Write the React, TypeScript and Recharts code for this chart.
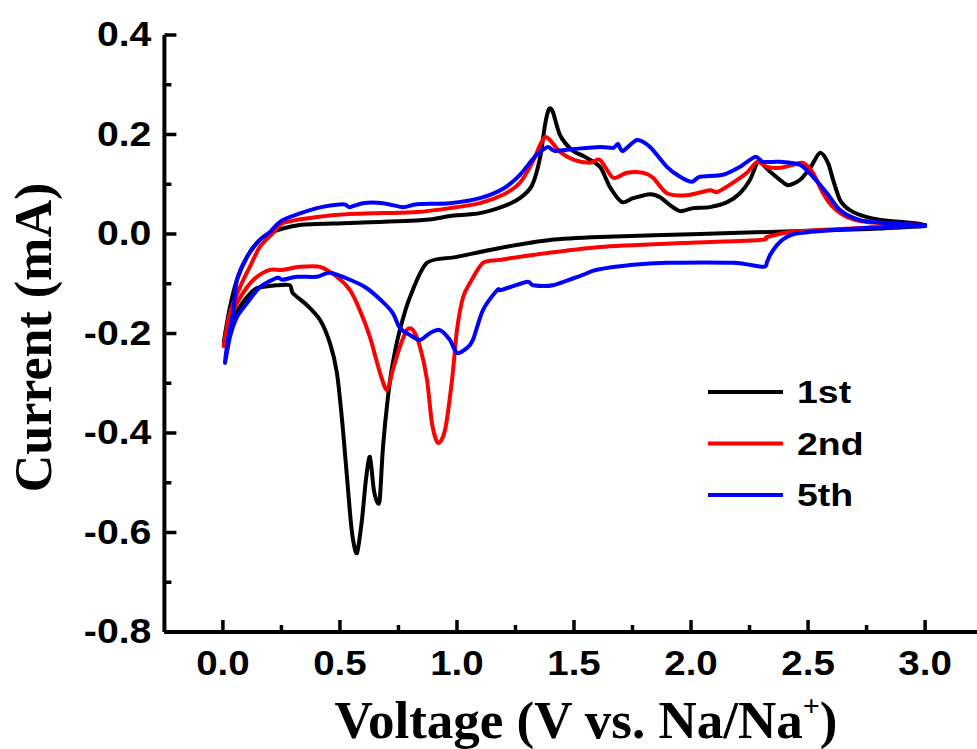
import React from 'react';
import { LineChart, Line, XAxis, YAxis, Legend } from 'recharts';

type Pt = [number, number];

// [voltage (V), current (mA)] — cathodic scan 3.0 -> 0.0 V, then anodic scan 0.0 -> 3.0 V
const cycle1Cathodic: Pt[] = [
  [3.0, 0.016], [2.765, 0.01], [2.466, 0.006], [2.038, 0.0], [1.611, -0.006], [1.397, -0.012],
  [1.184, -0.028], [1.0, -0.046], [0.872, -0.058], [0.799, -0.127], [0.756, -0.193], [0.726, -0.259],
  [0.705, -0.328], [0.684, -0.428], [0.671, -0.529], [0.662, -0.541], [0.645, -0.515], [0.628, -0.448],
  [0.611, -0.494], [0.594, -0.575], [0.573, -0.641], [0.556, -0.615], [0.543, -0.561], [0.513, -0.394],
  [0.487, -0.279], [0.457, -0.219], [0.415, -0.173], [0.359, -0.143], [0.299, -0.119], [0.286, -0.103],
  [0.231, -0.103], [0.145, -0.109], [0.103, -0.127], [0.064, -0.153], [0.03, -0.187], [0.004, -0.219],
];
const cycle1Anodic: Pt[] = [
  [0.004, -0.219], [0.03, -0.147], [0.06, -0.092], [0.103, -0.046], [0.145, -0.018], [0.201, 0.002],
  [0.329, 0.018], [0.543, 0.022], [0.855, 0.028], [0.97, 0.036], [1.098, 0.042], [1.201, 0.056],
  [1.269, 0.072], [1.321, 0.098], [1.355, 0.153], [1.376, 0.219], [1.393, 0.251], [1.41, 0.245],
  [1.44, 0.199], [1.491, 0.169], [1.547, 0.155], [1.611, 0.135], [1.654, 0.094], [1.705, 0.064],
  [1.752, 0.072], [1.825, 0.08], [1.868, 0.074], [1.91, 0.058], [1.953, 0.046], [2.009, 0.052],
  [2.081, 0.054], [2.154, 0.064], [2.209, 0.082], [2.252, 0.109], [2.282, 0.143], [2.295, 0.145],
  [2.338, 0.125], [2.38, 0.109], [2.415, 0.098], [2.466, 0.109], [2.509, 0.133], [2.551, 0.163],
  [2.585, 0.143], [2.607, 0.109], [2.637, 0.068], [2.679, 0.048], [2.752, 0.034], [2.85, 0.026],
  [2.949, 0.022], [3.0, 0.018],
];

const cycle2Cathodic: Pt[] = [
  [3.0, 0.018], [2.808, 0.014], [2.551, 0.008], [2.423, 0.004], [2.325, -0.006], [2.295, -0.012],
  [1.966, -0.018], [1.611, -0.026], [1.325, -0.042], [1.184, -0.052], [1.111, -0.058], [1.056, -0.098],
  [1.026, -0.127], [1.0, -0.193], [0.979, -0.293], [0.949, -0.394], [0.919, -0.42], [0.893, -0.38],
  [0.872, -0.293], [0.842, -0.227], [0.812, -0.193], [0.786, -0.193], [0.756, -0.227], [0.726, -0.273],
  [0.701, -0.314], [0.671, -0.279], [0.628, -0.207], [0.585, -0.153], [0.543, -0.113], [0.487, -0.086],
  [0.415, -0.066], [0.329, -0.066], [0.256, -0.072], [0.201, -0.072], [0.145, -0.086], [0.103, -0.107],
  [0.06, -0.139], [0.03, -0.173], [0.009, -0.213], [0.004, -0.223],
];
const cycle2Anodic: Pt[] = [
  [0.004, -0.223], [0.03, -0.159], [0.073, -0.107], [0.115, -0.066], [0.158, -0.026], [0.214, 0.002],
  [0.256, 0.022], [0.402, 0.034], [0.543, 0.04], [0.684, 0.042], [0.829, 0.044], [0.97, 0.052],
  [1.098, 0.062], [1.201, 0.08], [1.269, 0.103], [1.321, 0.143], [1.355, 0.179], [1.376, 0.195],
  [1.397, 0.189], [1.44, 0.165], [1.5, 0.149], [1.568, 0.143], [1.611, 0.149], [1.667, 0.113],
  [1.726, 0.123], [1.795, 0.123], [1.838, 0.113], [1.897, 0.082], [1.983, 0.078], [2.081, 0.088],
  [2.111, 0.084], [2.179, 0.103], [2.239, 0.123], [2.282, 0.145], [2.325, 0.135], [2.38, 0.133],
  [2.436, 0.139], [2.479, 0.143], [2.521, 0.123], [2.564, 0.082], [2.607, 0.054], [2.667, 0.034],
  [2.752, 0.024], [2.893, 0.02], [3.0, 0.018],
];

const cycle5Cathodic: Pt[] = [
  [3.0, 0.016], [2.752, 0.012], [2.466, 0.002], [2.402, -0.008], [2.368, -0.022], [2.338, -0.042],
  [2.325, -0.056], [2.308, -0.066], [2.179, -0.058], [1.897, -0.058], [1.752, -0.062], [1.598, -0.072],
  [1.538, -0.082], [1.41, -0.103], [1.325, -0.103], [1.303, -0.096], [1.226, -0.107], [1.184, -0.113],
  [1.171, -0.113], [1.111, -0.153], [1.068, -0.213], [1.043, -0.229], [1.0, -0.239], [0.97, -0.213],
  [0.927, -0.193], [0.885, -0.199], [0.842, -0.213], [0.799, -0.203], [0.756, -0.189], [0.726, -0.159],
  [0.684, -0.137], [0.615, -0.109], [0.543, -0.092], [0.457, -0.078], [0.402, -0.086], [0.316, -0.086],
  [0.256, -0.092], [0.231, -0.088], [0.158, -0.107], [0.103, -0.139], [0.06, -0.167], [0.03, -0.207],
  [0.009, -0.259],
];
const cycle5Anodic: Pt[] = [
  [0.009, -0.259], [0.021, -0.213], [0.043, -0.159], [0.06, -0.092], [0.103, -0.046], [0.158, -0.012],
  [0.201, 0.004], [0.256, 0.028], [0.402, 0.052], [0.513, 0.06], [0.543, 0.054], [0.598, 0.062],
  [0.684, 0.062], [0.769, 0.054], [0.829, 0.06], [0.97, 0.062], [1.098, 0.072], [1.201, 0.092],
  [1.269, 0.119], [1.321, 0.149], [1.355, 0.165], [1.389, 0.175], [1.419, 0.167], [1.504, 0.171],
  [1.611, 0.175], [1.667, 0.173], [1.688, 0.181], [1.709, 0.167], [1.769, 0.189], [1.825, 0.175],
  [1.897, 0.135], [1.953, 0.115], [2.004, 0.105], [2.038, 0.115], [2.137, 0.119], [2.209, 0.135],
  [2.274, 0.155], [2.308, 0.145], [2.38, 0.145], [2.466, 0.139], [2.521, 0.115], [2.581, 0.082],
  [2.637, 0.048], [2.722, 0.028], [2.838, 0.022], [3.0, 0.018],
];

const seriesNames = ['1st', '2nd', '5th'];
const seriesColors = ['#000000', '#ff0000', '#0000ff'];
const xTicks = [0, 0.25, 0.5, 0.75, 1.0, 1.25, 1.5, 1.75, 2.0, 2.25, 2.5, 2.75, 3.0];
const yTicks = [-0.8, -0.7, -0.6, -0.5, -0.4, -0.3, -0.2, -0.1, 0, 0.1, 0.2, 0.3, 0.4];
const xTitle = 'Voltage (V vs. Na/Na';
const yTitle = 'Current (mA)';

const toRows = (a: Pt[], b: Pt[]) => [...a, ...b.slice(1)].map(([v, i]) => ({ v, i }));
const seriesData = [
  toRows(cycle1Cathodic, cycle1Anodic),
  toRows(cycle2Cathodic, cycle2Anodic),
  toRows(cycle5Cathodic, cycle5Anodic),
];

// Cardinal spline curve factory (smooth curve through the points, works for non-monotone loops)
const cardinalCurve = (tension: number) => (context: any) => {
  let pts: number[][] = [];
  return {
    areaStart() {},
    areaEnd() {},
    lineStart() { pts = []; },
    point(x: number, y: number) { pts.push([+x, +y]); },
    lineEnd() {
      const n = pts.length;
      if (!n) return;
      context.moveTo(pts[0][0], pts[0][1]);
      const k = (1 - tension) / 6;
      for (let j = 0; j < n - 1; j++) {
        const p0 = pts[j - 1] || pts[j];
        const p1 = pts[j];
        const p2 = pts[j + 1];
        const p3 = pts[j + 2] || p2;
        context.bezierCurveTo(
          p1[0] + k * (p2[0] - p0[0]), p1[1] + k * (p2[1] - p0[1]),
          p2[0] - k * (p3[0] - p1[0]), p2[1] - k * (p3[1] - p1[1]),
          p2[0], p2[1]
        );
      }
    },
  };
};
const smooth = cardinalCurve(0.2);

const SANS = '"Liberation Sans", Arial, sans-serif';
const SERIF = '"Liberation Serif", "Times New Roman", serif';

const charW: Record<string, number> = {
  '0': 0.556, '1': 0.556, '2': 0.556, '3': 0.556, '4': 0.556, '5': 0.556, '6': 0.556, '7': 0.556,
  '8': 0.556, '9': 0.556, '.': 0.278, '-': 0.333, s: 0.556, t: 0.333, n: 0.611, d: 0.611, h: 0.611,
};
const textLen = (s: string, size: number, stretch: number) =>
  s.split('').reduce((acc, c) => acc + (charW[c] ?? 0.556), 0) * size * stretch;

const isMajor = (v: number, step: number) => Math.abs(v / step - Math.round(v / step)) < 1e-6;

const XTick = (props: any) => {
  const { x, y, payload } = props;
  const v = payload.value as number;
  const major = isMajor(v, 0.5);
  const label = v.toFixed(1);
  return (
    <g>
      <line x1={x} x2={x} y1={y} y2={y - (major ? 12 : 7)} stroke="#000" strokeWidth={3.5} />
      {major && (
        <text x={x} y={y + 43} textAnchor="middle" fontFamily={SANS} fontWeight="bold" fontSize={35}
          fill="#000" textLength={textLen(label, 35, 1.1)} lengthAdjust="spacingAndGlyphs">{label}</text>
      )}
    </g>
  );
};

const YTick = (props: any) => {
  const { x, y, payload } = props;
  const v = payload.value as number;
  const major = isMajor(v, 0.2);
  const label = Math.abs(v) < 1e-9 ? '0.0' : v.toFixed(1);
  return (
    <g>
      <line x1={x} x2={x + (major ? 12 : 7)} y1={y} y2={y} stroke="#000" strokeWidth={3.5} />
      {major && (
        <text x={x - 13} y={y + 11} textAnchor="end" fontFamily={SANS} fontWeight="bold" fontSize={35}
          fill="#000" textLength={textLen(label, 35, 1.12)} lengthAdjust="spacingAndGlyphs">{label}</text>
      )}
    </g>
  );
};

const XTitle = (props: any) => {
  const vb = props.viewBox || { x: 164, y: 632, width: 819, height: 117 };
  const cx = vb.x + vb.width / 2 + 12;
  const by = vb.y + 106;
  return (
    <text x={cx} y={by} textAnchor="middle" fontFamily={SERIF} fontWeight="bold" fontSize={53} fill="#000">
      {xTitle}
      <tspan fontSize={30} dy={-22}>+</tspan>
      <tspan dy={22}>)</tspan>
    </text>
  );
};

const YTitle = (props: any) => {
  const vb = props.viewBox || { x: 0, y: 35, width: 164, height: 597 };
  const cx = vb.x + 51;
  const cy = vb.y + vb.height / 2 + 4;
  return (
    <text x={cx} y={cy} transform={`rotate(-90 ${cx} ${cy})`} textAnchor="middle" fontFamily={SERIF}
      fontWeight="bold" fontSize={52} fill="#000">{yTitle}</text>
  );
};

const LegendBox = (props: any) => {
  const items = [...(props.payload || [])].sort(
    (a: any, b: any) => seriesNames.indexOf(a.value) - seriesNames.indexOf(b.value)
  );
  return (
    <svg width={200} height={150} style={{ display: 'block' }}>
      {items.map((e: any, k: number) => {
        const ly = 22 + k * 51.5;
        return (
          <g key={k}>
            <line x1={8} x2={83} y1={ly} y2={ly} stroke={e.color} strokeWidth={4} />
            <text x={97} y={ly + 11} fontFamily={SANS} fontWeight="bold" fontSize={32} fill="#000"
              textLength={textLen(e.value, 32, 1.17)} lengthAdjust="spacingAndGlyphs">{e.value}</text>
          </g>
        );
      })}
    </svg>
  );
};

const axisLineStyle = { stroke: '#000', strokeWidth: 4 };

export default function App() {
  return (
    <div style={{ position: 'absolute', left: 0, top: 0, width: 977, height: 749, overflow: 'hidden', background: '#fff' }}>
      <LineChart width={990} height={749} margin={{ top: 35, right: 6.4, bottom: 0, left: 0 }}>
        <XAxis xAxisId="top" orientation="top" type="number" dataKey="v" domain={[-0.25, 3.25]}
          allowDataOverflow height={0} tick={false} tickLine={false} stroke="#000" strokeWidth={4}
          axisLine={axisLineStyle} />
        <XAxis type="number" dataKey="v" domain={[-0.25, 3.25]} allowDataOverflow ticks={xTicks}
          interval={0} height={117} tickSize={0} tickMargin={0} tickLine={false} tick={<XTick />}
          stroke="#000" strokeWidth={4} axisLine={axisLineStyle} label={<XTitle />} />
        <YAxis type="number" domain={[-0.8, 0.4]} allowDataOverflow ticks={yTicks} interval={0}
          width={164.4} tickSize={0} tickMargin={0} tickLine={false} tick={<YTick />}
          stroke="#000" strokeWidth={4} axisLine={axisLineStyle} label={<YTitle />} />
        {seriesData.map((d, k) => (
          <Line key={seriesNames[k]} data={d} dataKey="i" name={seriesNames[k]} type={smooth as any}
            stroke={seriesColors[k]} strokeWidth={4} dot={false} activeDot={false}
            strokeLinejoin="round" strokeLinecap="round" isAnimationActive={false} />
        ))}
        <Legend layout="horizontal" verticalAlign="middle" align="center" content={<LegendBox />}
          wrapperStyle={{ position: 'absolute', left: 700, top: 370, width: 200, height: 150 }} />
      </LineChart>
    </div>
  );
}
